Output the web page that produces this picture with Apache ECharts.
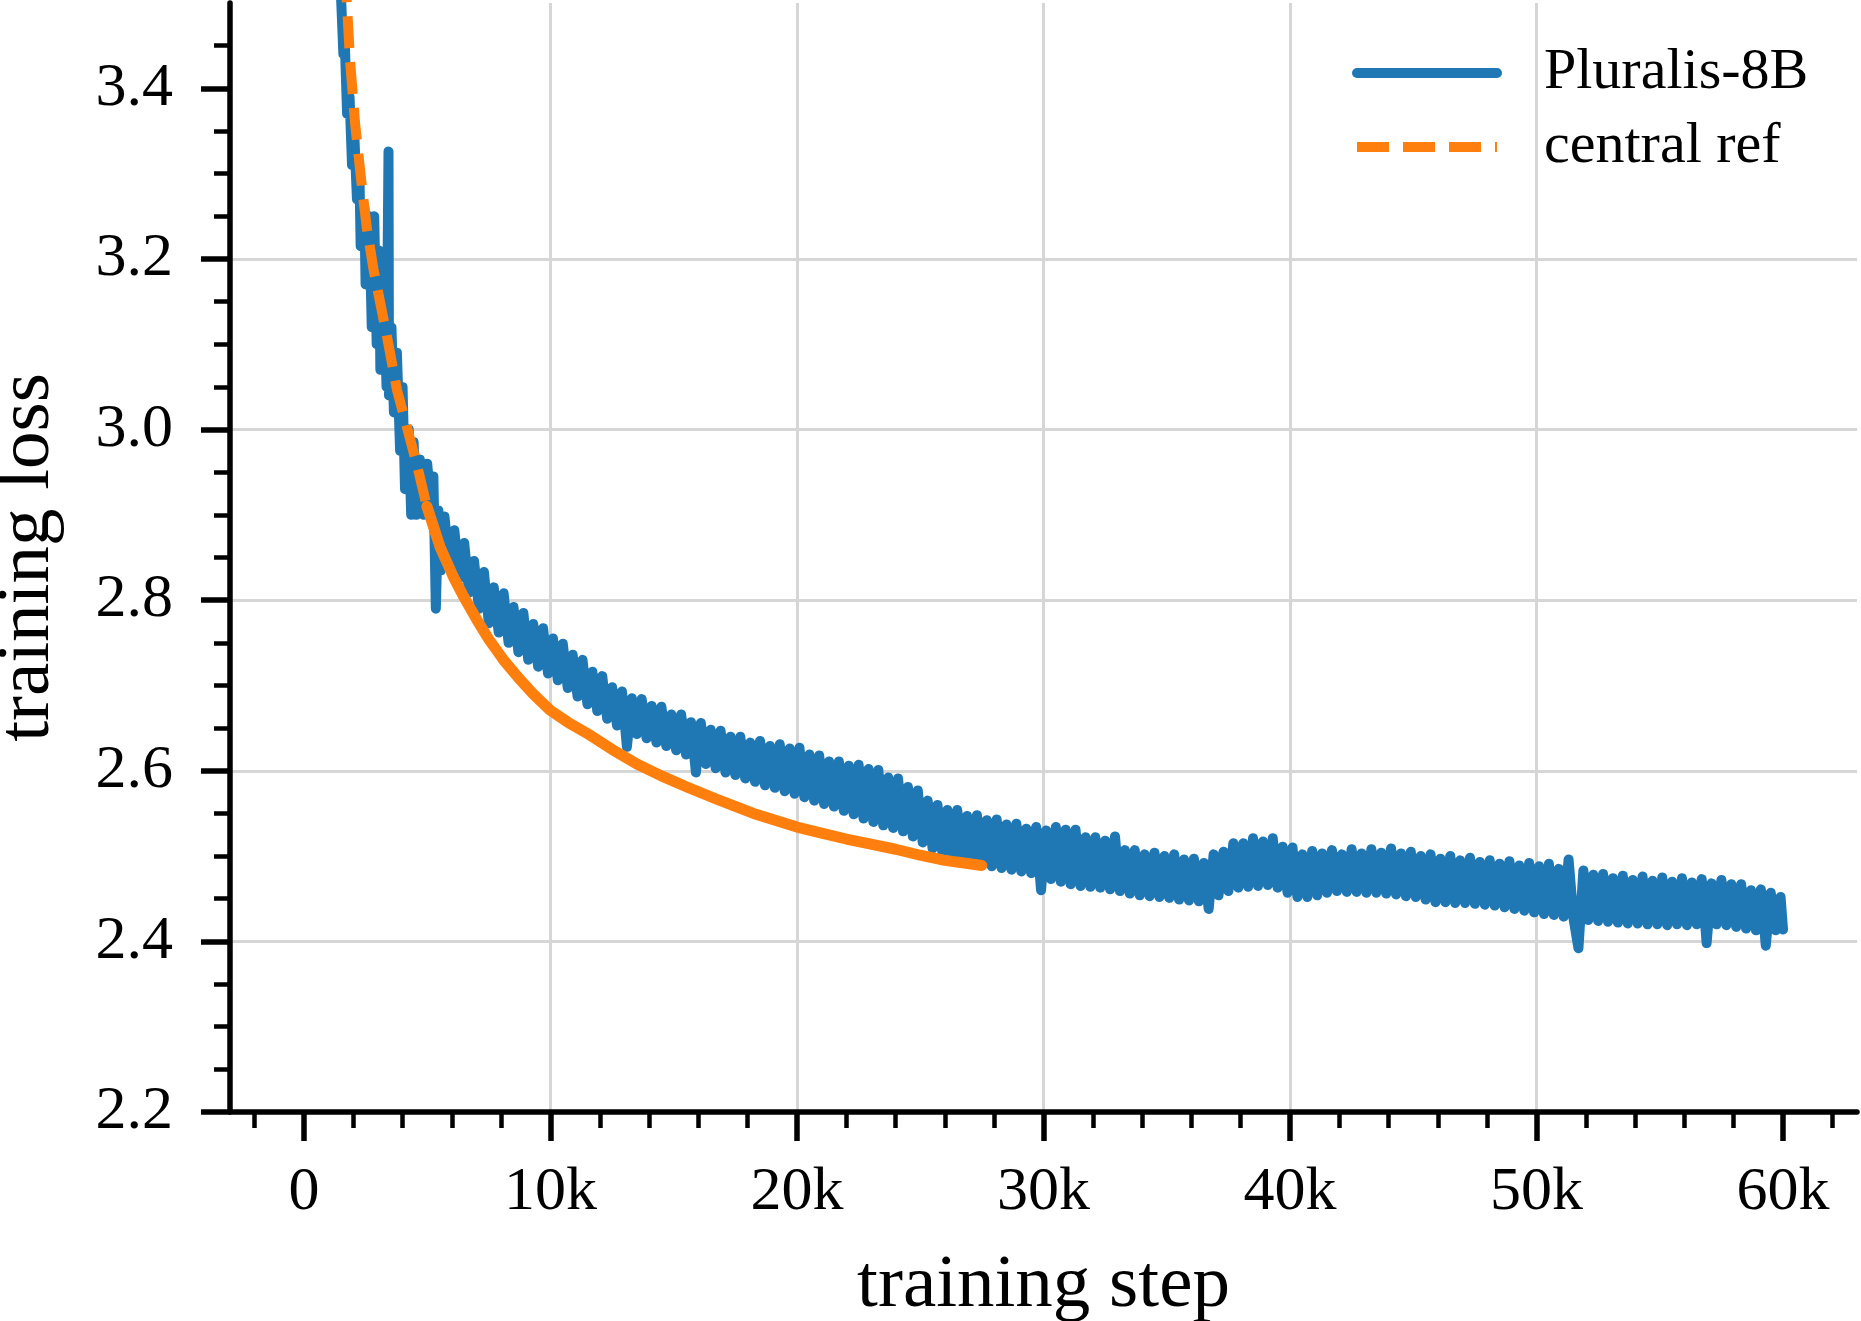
<!DOCTYPE html>
<html lang="en">
<head>
<meta charset="UTF-8">
<title>training loss</title>
<script src="https://cdn.jsdelivr.net/npm/echarts@6/dist/echarts.min.js"></script>
<style>
	html, body { margin: 0; padding: 0; background: #fff; }
	#chart { width: 1861px; height: 1321px; }
</style>
</head>
<body>
<div id="chart"></div>
<script>
// Pluralis-8B run (the band is the run's step-to-step noise)
var blueSteps = [
	1350, 1500, 1600, 1650, 1750, 1850, 1950, 2050, 2150, 2250,
	2300, 2450, 2500, 2650, 2750, 2850, 2950, 3050, 3100, 3250,
	3350, 3430, 3450, 3550, 3650, 3770, 3900, 4000, 4100, 4250,
	4350, 4450, 4550, 4700, 4850, 5000, 5150, 5250, 5350, 5450,
	5550,
	5700, 5900, 6100, 6300, 6500, 6700, 6900, 7100, 7300, 7500,
	7700, 7900, 8100, 8300, 8500, 8700, 8900, 9100, 9300, 9500,
	9700, 9900, 10100, 10300, 10500, 10700, 10900, 11100, 11300, 11500,
	11700, 11900, 12100, 12300, 12500, 12700, 12900, 13100, 13300, 13500,
	13700, 13900, 14100, 14300, 14500, 14700, 14900, 15100, 15300, 15500,
	15700, 15900, 16100, 16300, 16500, 16700, 16900, 17100, 17300, 17500,
	17700, 17900, 18100, 18300, 18500, 18700, 18900, 19100, 19300, 19500,
	19700, 19900, 20100, 20300, 20500, 20700, 20900, 21100, 21300, 21500,
	21700, 21900, 22100, 22300, 22500, 22700, 22900, 23100, 23300, 23500,
	23700, 23900, 24100, 24300, 24500, 24700, 24900, 25100, 25300, 25500,
	25700, 25900, 26100, 26300, 26500, 26700, 26900, 27100, 27300, 27500,
	27700, 27900, 28100, 28300, 28500, 28700, 28900, 29100, 29300, 29500,
	29700, 29900, 30100, 30300, 30500, 30700, 30900, 31100, 31300, 31500,
	31700, 31900, 32100, 32300, 32500, 32700, 32900, 33100, 33300, 33500,
	33700, 33900, 34100, 34300, 34500, 34700, 34900, 35100, 35300, 35500,
	35700, 35900, 36100, 36300, 36500, 36700, 36900, 37100, 37300, 37500,
	37700, 37900, 38100, 38300, 38500, 38700, 38900, 39100, 39300, 39500,
	39700, 39900, 40100, 40300, 40500, 40700, 40900, 41100, 41300, 41500,
	41700, 41900, 42100, 42300, 42500, 42700, 42900, 43100, 43300, 43500,
	43700, 43900, 44100, 44300, 44500, 44700, 44900, 45100, 45300, 45500,
	45700, 45900, 46100, 46300, 46500, 46700, 46900, 47100, 47300, 47500,
	47700, 47900, 48100, 48300, 48500, 48700, 48900, 49100, 49300, 49500,
	49700, 49900, 50100, 50300, 50500, 50700, 50900, 51100, 51300, 51500,
	51700, 51900, 52100, 52300, 52500, 52700, 52900, 53100, 53300, 53500,
	53700, 53900, 54100, 54300, 54500, 54700, 54900, 55100, 55300, 55500,
	55700, 55900, 56100, 56300, 56500, 56700, 56900, 57100, 57300, 57500,
	57700, 57900, 58100, 58300, 58500, 58700, 58900, 59100, 59300, 59500,
	59700, 59900, 60000
];
var blueLoss = [
	3.60, 3.51, 3.44, 3.46, 3.37, 3.39, 3.31, 3.34, 3.27, 3.30,
	3.215, 3.26, 3.17, 3.25, 3.12, 3.25, 3.10, 3.21, 3.07, 3.16,
	3.05, 3.326, 3.04, 3.12, 3.02, 3.09, 2.975, 3.05, 2.93, 3.00,
	2.90, 2.985, 2.90, 2.965, 2.90, 2.96, 2.91, 2.945, 2.79, 2.905,
	2.835,
	2.898, 2.841, 2.882, 2.826, 2.867, 2.809, 2.846, 2.790, 2.833, 2.773,
	2.815, 2.762, 2.808, 2.750, 2.792, 2.739, 2.785, 2.730, 2.772, 2.722,
	2.767, 2.714, 2.755, 2.706, 2.749, 2.697, 2.736, 2.687, 2.730, 2.678,
	2.716, 2.670, 2.711, 2.661, 2.698, 2.653, 2.693, 2.628, 2.685, 2.643,
	2.684, 2.638, 2.676, 2.633, 2.675, 2.629, 2.666, 2.624, 2.666, 2.619,
	2.657, 2.598, 2.656, 2.608, 2.648, 2.603, 2.647, 2.598, 2.640, 2.595,
	2.640, 2.591, 2.633, 2.587, 2.635, 2.583, 2.629, 2.580, 2.631, 2.576,
	2.626, 2.573, 2.627, 2.569, 2.619, 2.565, 2.618, 2.561, 2.611, 2.558,
	2.611, 2.553, 2.606, 2.549, 2.607, 2.544, 2.602, 2.540, 2.601, 2.536,
	2.592, 2.533, 2.591, 2.529, 2.581, 2.523, 2.577, 2.516, 2.565, 2.509,
	2.560, 2.504, 2.554, 2.500, 2.554, 2.497, 2.547, 2.493, 2.548, 2.491,
	2.542, 2.488, 2.543, 2.486, 2.537, 2.484, 2.538, 2.482, 2.532, 2.480,
	2.534, 2.460, 2.530, 2.473, 2.534, 2.470, 2.531, 2.467, 2.531, 2.465,
	2.522, 2.464, 2.522, 2.463, 2.518, 2.461, 2.523, 2.459, 2.507, 2.456,
	2.507, 2.454, 2.502, 2.453, 2.504, 2.452, 2.500, 2.451, 2.502, 2.449,
	2.496, 2.448, 2.497, 2.447, 2.492, 2.438, 2.502, 2.454, 2.505, 2.459,
	2.515, 2.463, 2.515, 2.464, 2.521, 2.465, 2.517, 2.466, 2.521, 2.463,
	2.511, 2.457, 2.510, 2.452, 2.502, 2.452, 2.506, 2.454, 2.503, 2.457,
	2.507, 2.459, 2.502, 2.458, 2.508, 2.458, 2.503, 2.457, 2.508, 2.457,
	2.504, 2.456, 2.509, 2.455, 2.503, 2.453, 2.505, 2.452, 2.500, 2.449,
	2.502, 2.446, 2.497, 2.446, 2.500, 2.445, 2.495, 2.445, 2.498, 2.444,
	2.493, 2.443, 2.495, 2.442, 2.491, 2.440, 2.494, 2.438, 2.489, 2.436,
	2.492, 2.434, 2.488, 2.432, 2.491, 2.431, 2.485, 2.429, 2.496, 2.427,
	2.392, 2.483, 2.425, 2.478, 2.424, 2.479, 2.423, 2.474, 2.422, 2.477,
	2.421, 2.472, 2.421, 2.476, 2.420, 2.471, 2.420, 2.475, 2.419, 2.470,
	2.420, 2.474, 2.419, 2.469, 2.420, 2.473, 2.398, 2.468, 2.420, 2.472,
	2.419, 2.467, 2.417, 2.467, 2.415, 2.460, 2.413, 2.461, 2.395, 2.457,
	2.413, 2.452, 2.414
];

// central reference run
var refSteps = [
	1400, 1600, 1740, 1874, 2077, 2349, 2552, 2820, 3160, 3428,
	3769, 4174, 4580, 4986, 5525, 6066, 6500, 7014, 7500, 8094,
	8700, 9300, 9988, 10700, 11476, 12500, 13505, 14500, 15533, 16800,
	18236, 20000, 21000, 22000, 23000, 24000, 25000, 26000, 27000, 27500
];
var refLoss = [
	3.70, 3.58, 3.50, 3.431, 3.358, 3.285, 3.236, 3.188, 3.139, 3.100,
	3.047, 3.003, 2.959, 2.910, 2.862, 2.827, 2.803, 2.777, 2.754, 2.730,
	2.709, 2.690, 2.671, 2.657, 2.644, 2.625, 2.608, 2.594, 2.581, 2.566,
	2.550, 2.534, 2.527, 2.520, 2.514, 2.508, 2.501, 2.495, 2.491, 2.489
];
// past this step the dense noisy reference line reads as solid
var refDashEnd = 4986;

var xTicks = [0, 10000, 20000, 30000, 40000, 50000, 60000];
var yTicks = [2.2, 2.4, 2.6, 2.8, 3.0, 3.2, 3.4];

function pairs(xs, ys, keep) {
	var out = [];
	for (var i = 0; i < xs.length; i++) {
		if (!keep || keep(xs[i])) out.push([xs[i], ys[i]]);
	}
	return out;
}

var serif = '"Liberation Serif", "Times New Roman", Times, "DejaVu Serif", serif';
var chart = echarts.init(document.getElementById('chart'));

var option = {
	animation: false,
	backgroundColor: '#fff',
	grid: { left: 230, right: 4, top: 3, bottom: 209, outerBoundsMode: 'none' },
	legend: {
		data: ['Pluralis-8B', 'central ref'],
		orient: 'vertical',
		left: 1352,
		top: 43,
		padding: 0,
		itemWidth: 140,
		itemHeight: 4,
		itemGap: 14,
		selectedMode: false,
		itemStyle: { opacity: 0 },
		lineStyle: { width: 10 },
		textStyle: {
			fontFamily: serif,
			fontSize: 58,
			lineHeight: 60,
			color: '#000',
			padding: [0, 0, 0, 42]
		}
	},
	xAxis: {
		type: 'value',
		min: -3000,
		max: 63000,
		splitNumber: 5,
		name: 'training step',
		nameLocation: 'middle',
		nameGap: 137,
		nameTextStyle: { fontFamily: serif, fontSize: 75, color: '#000' },
		axisLine: { onZero: false, lineStyle: { color: '#000', width: 5.5 } },
		axisTick: { customValues: xTicks, length: 29, lineStyle: { color: '#000', width: 5.5 } },
		minorTick: { show: true, splitNumber: 5, length: 16, lineStyle: { color: '#000', width: 4.5 } },
		axisLabel: {
			customValues: xTicks,
			margin: 50,
			fontFamily: serif,
			fontSize: 62,
			color: '#000',
			formatter: function (v) { return v === 0 ? '0' : (v / 1000) + 'k'; }
		},
		splitLine: { show: true, showMinLine: false, showMaxLine: false, lineStyle: { color: '#d6d6d6', width: 3 } }
	},
	yAxis: {
		type: 'value',
		min: 2.2,
		max: 3.5,
		interval: 0.2,
		name: 'training loss',
		nameLocation: 'middle',
		nameGap: 164,
		nameTextStyle: { fontFamily: serif, fontSize: 75, color: '#000' },
		axisLine: { show: true, onZero: false, lineStyle: { color: '#000', width: 5.5 } },
		axisTick: { show: true, customValues: yTicks, length: 29, lineStyle: { color: '#000', width: 5.5 } },
		minorTick: { show: true, splitNumber: 4, length: 16, lineStyle: { color: '#000', width: 4.5 } },
		axisLabel: {
			customValues: yTicks,
			margin: 57,
			fontFamily: serif,
			fontSize: 62,
			color: '#000',
			formatter: function (v) { return v.toFixed(1); }
		},
		splitLine: { show: true, showMinLine: false, showMaxLine: false, lineStyle: { color: '#d6d6d6', width: 3 } }
	},
	series: [
		{
			name: 'Pluralis-8B',
			type: 'line',
			data: pairs(blueSteps, blueLoss),
			symbol: 'none',
			clip: true,
			color: '#1f77b4',
			lineStyle: { color: '#1f77b4', width: 10, join: 'round', cap: 'round' }
		},
		{
			name: 'central ref',
			type: 'line',
			data: pairs(refSteps, refLoss, function (s) { return s <= refDashEnd; }),
			symbol: 'none',
			clip: true,
			color: '#ff7f0e',
			lineStyle: { color: '#ff7f0e', width: 10, type: [32, 14] }
		},
		{
			name: 'central ref',
			type: 'line',
			data: pairs(refSteps, refLoss, function (s) { return s >= refDashEnd; }),
			symbol: 'none',
			clip: true,
			color: '#ff7f0e',
			lineStyle: { color: '#ff7f0e', width: 11, join: 'round', cap: 'round' }
		}
	]
};
chart.setOption(option);
</script>
</body>
</html>
